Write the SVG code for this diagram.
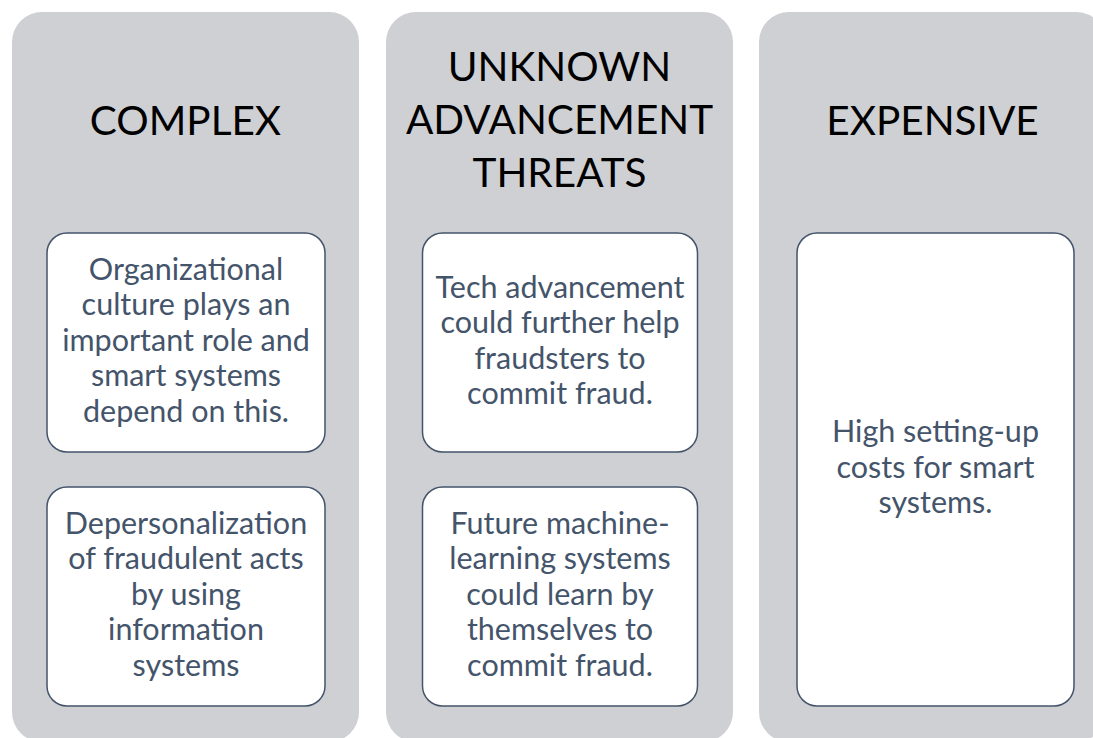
<svg xmlns="http://www.w3.org/2000/svg" width="1093" height="738" viewBox="0 0 1093 738">
<style>
.col{fill:#cfd0d4;}
.box{fill:#ffffff;stroke:#44546a;stroke-width:1.5;}
.title{font-family:Lato,"Liberation Sans",sans-serif;font-size:40.5px;fill:#000000;text-anchor:middle;}
.txt{font-family:Lato,"Liberation Sans",sans-serif;font-size:30.5px;fill:#44546a;text-anchor:middle;}
</style>
<rect width="1093" height="738" fill="#ffffff"/>
<g id="col-complex">
<rect class="col" x="12" y="12" width="347" height="730" rx="30"/>
<text class="title" x="185.5" y="135">COMPLEX</text>
</g>
<g id="box-org">
<rect class="box" x="47" y="233" width="278" height="219" rx="20"/>
<text class="txt" x="186" y="279.5">Organizational</text>
<text class="txt" x="186" y="315">culture plays an</text>
<text class="txt" x="186" y="350.5">important role and</text>
<text class="txt" x="186" y="386">smart systems</text>
<text class="txt" x="186" y="421.5">depend on this.</text>
</g>
<g id="box-depers">
<rect class="box" x="47" y="487" width="278" height="219" rx="20"/>
<text class="txt" x="186" y="533.5">Depersonalization</text>
<text class="txt" x="186" y="569">of fraudulent acts</text>
<text class="txt" x="186" y="604.5">by using</text>
<text class="txt" x="186" y="640">information</text>
<text class="txt" x="186" y="675.5">systems</text>
</g>
<g id="col-unknown">
<rect class="col" x="386" y="12" width="347" height="730" rx="30"/>
<text class="title" x="559.5" y="81">UNKNOWN</text>
<text class="title" x="559.5" y="134">ADVANCEMENT</text>
<text class="title" x="559.5" y="187">THREATS</text>
</g>
<g id="box-tech">
<rect class="box" x="422.5" y="233" width="275" height="219" rx="20"/>
<text class="txt" x="560" y="297.5">Tech advancement</text>
<text class="txt" x="560" y="333">could further help</text>
<text class="txt" x="560" y="368.5">fraudsters to</text>
<text class="txt" x="560" y="404">commit fraud.</text>
</g>
<g id="box-ml">
<rect class="box" x="422.5" y="487" width="275" height="219" rx="20"/>
<text class="txt" x="560" y="533.5">Future machine-</text>
<text class="txt" x="560" y="569">learning systems</text>
<text class="txt" x="560" y="604.5">could learn by</text>
<text class="txt" x="560" y="640">themselves to</text>
<text class="txt" x="560" y="675.5">commit fraud.</text>
</g>
<g id="col-expensive">
<rect class="col" x="759" y="12" width="347" height="730" rx="30"/>
<text class="title" x="932.5" y="135">EXPENSIVE</text>
</g>
<g id="box-cost">
<rect class="box" x="797" y="233" width="277" height="473" rx="20"/>
<text class="txt" x="935.5" y="442">High setting-up</text>
<text class="txt" x="935.5" y="477.5">costs for smart</text>
<text class="txt" x="935.5" y="513">systems.</text>
</g>
<g id="connectors"></g>
</svg>
